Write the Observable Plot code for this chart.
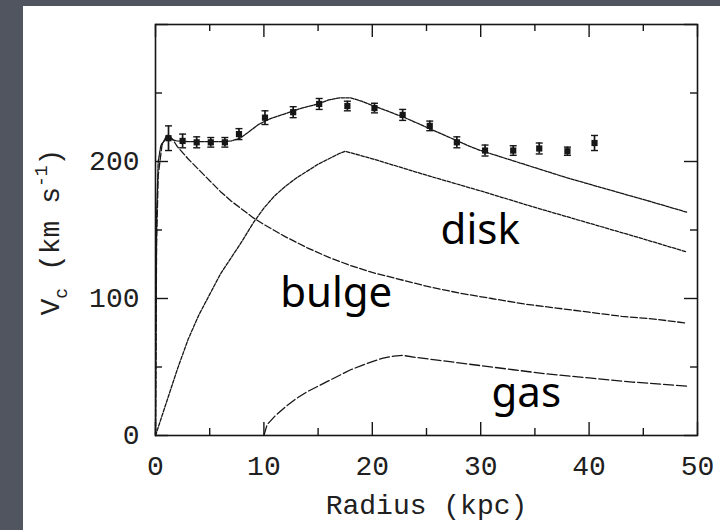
<!DOCTYPE html>
<html>
<head>
<meta charset="utf-8">
<script src="https://cdn.jsdelivr.net/npm/d3@7"></script>
<script src="https://cdn.jsdelivr.net/npm/@observablehq/plot@0.6"></script>
<style>
  html, body { margin: 0; padding: 0; width: 720px; height: 530px; overflow: hidden; background: #50555f; }
  #panel { position: absolute; left: 23px; top: 6px; width: 697px; height: 524px; background: #ffffff; }
  #chart { position: absolute; left: 0; top: 0; }
</style>
</head>
<body>
<div id="panel"></div>
<div id="chart"></div>
<script>
// ---- Observed rotation curve (Radius kpc, Vc km/s, error km/s)
const obsRadius = [1.2, 2.5, 3.8, 5.1, 6.4, 7.7, 10.1, 12.7, 15.1, 17.7, 20.2, 22.8, 25.3, 27.8, 30.4, 33.0, 35.4, 38.0, 40.5];
const obsVel    = [217, 215, 214, 214, 214, 220, 232, 236, 242, 240.5, 239, 234, 226, 214, 208, 208, 209.5, 207.5, 213.5];
const obsErr    = [9,   5,   4,   3.5, 3.5, 4,   5,   4,   4,   3.5,   3.5, 4,   3.5, 4,   4,   3.5, 4,     3,     5.5];

// ---- Model: total
const totalR = [0, 0.1, 0.25, 0.5, 1, 1.5, 2, 3, 4, 5, 6, 7, 7.8, 8.5, 9.5, 10.5, 12, 13.5, 15, 16, 17, 18, 19, 20, 21, 22, 23, 24, 25, 26, 27, 28, 29, 30, 32, 34, 36, 38, 40, 42, 44, 46, 49];
const totalV = [0, 160, 200, 212, 217, 216, 215, 214.5, 214.5, 214.5, 214.5, 215, 217, 221, 227, 231, 235, 239, 242, 245, 246.5, 246.5, 244, 241, 238, 235, 232, 228.5, 225, 221.5, 218, 214.5, 211, 208, 203, 198, 193, 188, 183.5, 179, 174.5, 170, 163];

// ---- Model: disk
const diskR = [0, 1, 2, 3, 4, 5, 6, 7, 8, 9, 10, 11, 12, 13, 14, 15, 16, 17, 17.5, 20, 25, 30, 35, 40, 45, 49];
const diskV = [0, 24, 48, 70, 88, 103, 118, 130, 142, 155, 166, 175, 182, 188, 193, 198, 202, 206, 207.5, 202, 190, 178.5, 166.5, 155, 143.5, 134];

// ---- Model: bulge
const bulgeR = [0, 0.1, 0.25, 0.6, 1.1, 1.6, 2, 3, 4, 5, 6, 7, 8, 9, 10, 12, 14, 16, 18, 20, 22, 25, 28, 31, 34, 37, 40, 43, 46, 49];
const bulgeV = [0, 140, 190, 212, 220, 216, 211, 202, 194, 186, 178, 171, 165, 159, 154, 145, 137, 130, 124, 119, 115, 109, 104, 100, 96, 93, 90, 87, 85, 82];

// ---- Model: gas
const gasR = [10, 10.3, 11, 12, 13, 14, 15, 16, 17, 18, 19, 20, 21, 22, 22.8, 24, 26, 28, 30, 33, 36, 40, 44, 49];
const gasV = [0, 8, 14, 21, 27, 32, 36, 40, 44, 48, 51, 54, 56.5, 58, 58.5, 57, 55, 53, 51, 48, 45, 42, 39, 36];

// ---- Ticks and labels
const xMajorTicks = [0, 10, 20, 30, 40, 50];
const xMinorTicks = [5, 15, 25, 35, 45];
const yLabelTicks = [0, 100, 200];
const yMajorTicks = [0, 100, 200, 300];
const yMinorTicks = [50, 150, 250];
const xTitle = "Radius (kpc)";
const componentNames = ["disk", "bulge", "gas"];
const componentLabelR = [26.3, 11.5, 31];
const componentLabelV = [140, 94, 21];

// ---- Tables built from the arrays
const obs = obsRadius.map((r, i) => ({r, v: obsVel[i], e: obsErr[i]}));
const curve = (R, V) => R.map((r, i) => ({r, v: V[i]}));
const total = curve(totalR, totalV);
const disk = curve(diskR, diskV);
const bulge = curve(bulgeR, bulgeV);
const gas = curve(gasR, gasV);
const labels = componentNames.map((t, i) => ({t, r: componentLabelR[i], v: componentLabelV[i]}));

const W = 720, H = 530, mL = 155, mR = 23, mT = 24, mB = 95;
const innerW = W - mL - mR, innerH = H - mT - mB;
const majLen = 13, minLen = 7;
const ink = "#161616";
const monoFont = "'Liberation Mono', 'DejaVu Sans Mono', monospace";
const capSymbol = { draw(ctx) { ctx.moveTo(-3.5, 0); ctx.lineTo(3.5, 0); } };

const plot = Plot.plot({
  width: W, height: H,
  marginLeft: mL, marginRight: mR, marginTop: mT, marginBottom: mB,
  style: { background: "transparent", fontFamily: monoFont, fontSize: "28px", color: "#202020" },
  x: { domain: [0, 50] },
  y: { domain: [0, 300] },
  marks: [
    // ticks (inward on all four sides)
    Plot.tickX(xMajorTicks, { x: d => d, insetTop: innerH - majLen, stroke: ink, strokeWidth: 1.4 }),
    Plot.tickX(xMajorTicks, { x: d => d, insetBottom: innerH - majLen, stroke: ink, strokeWidth: 1.4 }),
    Plot.tickX(xMinorTicks, { x: d => d, insetTop: innerH - minLen, stroke: ink, strokeWidth: 1.4 }),
    Plot.tickX(xMinorTicks, { x: d => d, insetBottom: innerH - minLen, stroke: ink, strokeWidth: 1.4 }),
    Plot.tickY(yMajorTicks, { y: d => d, insetRight: innerW - majLen, stroke: ink, strokeWidth: 1.4 }),
    Plot.tickY(yMajorTicks, { y: d => d, insetLeft: innerW - majLen, stroke: ink, strokeWidth: 1.4 }),
    Plot.tickY(yMinorTicks, { y: d => d, insetRight: innerW - minLen, stroke: ink, strokeWidth: 1.4 }),
    Plot.tickY(yMinorTicks, { y: d => d, insetLeft: innerW - minLen, stroke: ink, strokeWidth: 1.4 }),
    Plot.axisX({ ticks: xMajorTicks, tickSize: 0, tickPadding: 20, label: null }),
    Plot.axisY({ ticks: yLabelTicks, tickSize: 0, tickPadding: 16, label: null }),
    Plot.text([xTitle], { text: d => d, frameAnchor: "bottom", dy: 78 }),
    // model curves
    Plot.line(total, { x: "r", y: "v", stroke: ink, strokeWidth: 1.3, strokeDasharray: "3.5,1.2" }),
    Plot.line(disk,  { x: "r", y: "v", stroke: ink, strokeWidth: 1.3, strokeDasharray: "3.5,1.5" }),
    Plot.line(bulge, { x: "r", y: "v", stroke: ink, strokeWidth: 1.3, strokeDasharray: "7,2.5" }),
    Plot.line(gas,   { x: "r", y: "v", stroke: ink, strokeWidth: 1.3, strokeDasharray: "10,3" }),
    // data with error bars
    Plot.ruleX(obs, { x: "r", y1: d => d.v - d.e, y2: d => d.v + d.e, stroke: ink, strokeWidth: 1.7 }),
    Plot.dot(obs, { x: "r", y: d => d.v - d.e, symbol: capSymbol, fill: "none", stroke: ink, strokeWidth: 1.4, r: 3 }),
    Plot.dot(obs, { x: "r", y: d => d.v + d.e, symbol: capSymbol, fill: "none", stroke: ink, strokeWidth: 1.4, r: 3 }),
    Plot.dot(obs, { x: "r", y: "v", symbol: "square", fill: ink, stroke: "none", r: 3.5 }),
    // component labels
    Plot.text(labels, { x: "r", y: "v", text: "t", textAnchor: "start", lineAnchor: "bottom",
      fontFamily: "'Noto Sans', sans-serif", fontSize: 42, fill: "#000" }),
    Plot.frame({ stroke: ink, strokeWidth: 1.6 })
  ]
});

document.getElementById("chart").appendChild(plot);

// y-axis title with subscript / superscript
const yt = d3.select(plot).append("text")
  .attr("transform", "translate(52,232) rotate(-90)")
  .attr("text-anchor", "middle")
  .attr("dominant-baseline", "middle")
  .attr("fill", "#202020")
  .style("font-family", monoFont)
  .style("font-size", "28px");
yt.append("tspan").text("V");
yt.append("tspan").attr("baseline-shift", "sub").style("font-size", "18px").text("c");
yt.append("tspan").text(" (km s");
yt.append("tspan").attr("baseline-shift", "super").style("font-size", "18px").text("-1");
yt.append("tspan").text(")");
</script>
</body>
</html>
